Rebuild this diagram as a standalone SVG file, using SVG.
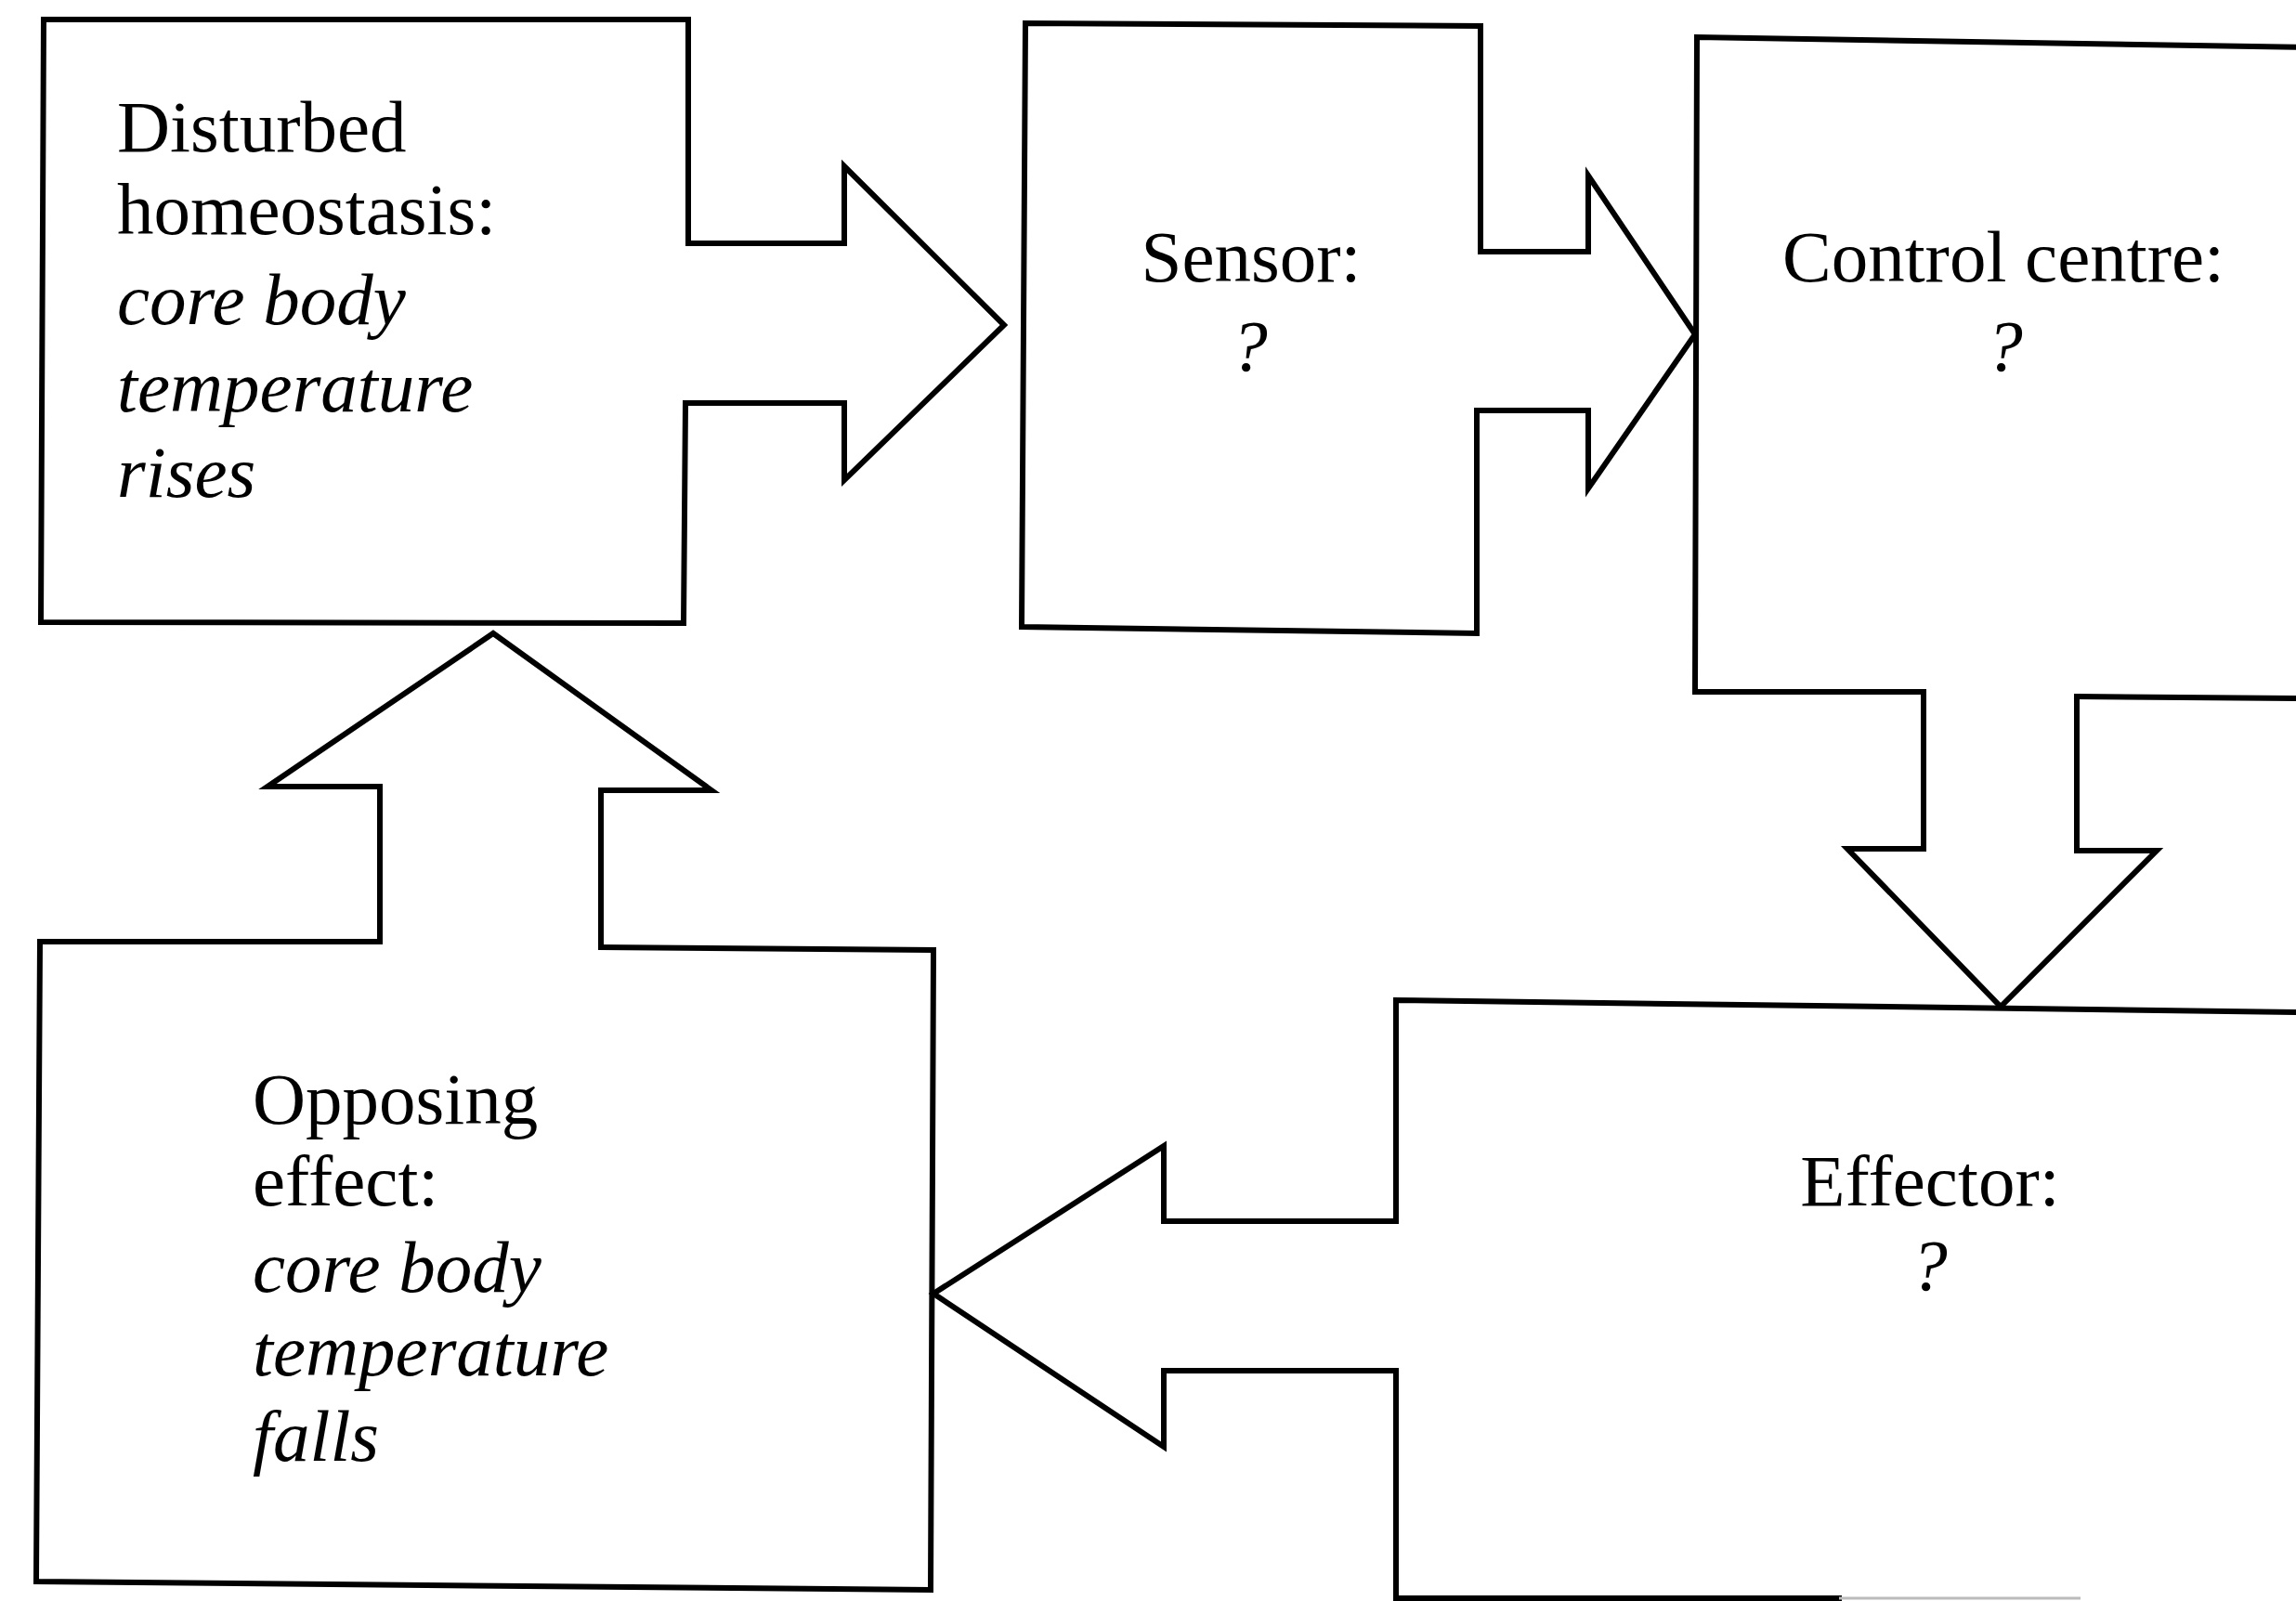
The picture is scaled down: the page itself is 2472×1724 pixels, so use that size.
<svg xmlns="http://www.w3.org/2000/svg" width="2472" height="1724" viewBox="0 0 2472 1724">
<style>
.ln{fill:none;stroke:#000;stroke-width:6;stroke-linejoin:miter;stroke-linecap:square}
.t{font-family:"Liberation Serif","Times New Roman",serif;font-size:79px;fill:#000}
.i{font-style:italic}
.c{text-anchor:middle}
</style>
<rect width="2472" height="1724" fill="#fff"/>
<g id="disturbed">
<path class="ln" d="M741,262 L741,21 L47,21 L44,670 L736,671 L738,434"/>
<text class="t" x="126" y="163">Disturbed</text>
<text class="t" x="126" y="252">homeostasis:</text>
<text class="t i" x="126" y="349">core body</text>
<text class="t i" x="126" y="443">temperature</text>
<text class="t i" x="126" y="535">rises</text>
</g>
<g id="sensor">
<path class="ln" d="M1594,271 L1594,28 L1104,25 L1100,675 L1590,682 L1590,442"/>
<text class="t c" x="1347" y="303">Sensor:</text>
<text class="t c i" x="1345" y="399">?</text>
</g>
<g id="control">
<path class="ln" d="M2071,745 L1825,745 L1827,40 L2480,51 M2236,750 L2480,752"/>
<text class="t c" x="2157" y="303">Control centre:</text>
<text class="t c i" x="2158" y="399">?</text>
</g>
<g id="effector">
<path class="ln" d="M1503,1315 L1503,1077 L2480,1090 M1503,1476 L1503,1721 L1980,1721"/>
<path d="M1980,1721 L2240,1721" fill="none" stroke="#bbb" stroke-width="3"/>
<text class="t c" x="2078" y="1298">Effector:</text>
<text class="t c i" x="2077" y="1389">?</text>
</g>
<g id="opposing">
<path class="ln" d="M409,1014 L43,1014 L39,1703 L1002,1712 L1005,1023 L647,1020"/>
<text class="t" x="272" y="1210">Opposing</text>
<text class="t" x="272" y="1298">effect:</text>
<text class="t i" x="272" y="1391">core body</text>
<text class="t i" x="272" y="1481">temperature</text>
<text class="t i" x="272" y="1573">falls</text>
</g>
<g id="connectors">
<path class="ln" d="M741,262 L909,262 L909,179 L1081,350 L909,517 L909,434 L738,434"/>
<path class="ln" d="M1594,271 L1710,271 L1710,189 L1825,360 L1710,526 L1710,442 L1590,442"/>
<path class="ln" d="M2071,745 L2071,914 L1989,914 L2154,1084 L2322,916 L2236,916 L2236,750"/>
<path class="ln" d="M1503,1315 L1253,1315 L1253,1234 L1005,1393 L1253,1558 L1253,1476 L1503,1476"/>
<path class="ln" d="M409,1014 L409,847 L288,847 L531,682 L766,851 L647,851 L647,1020"/>
</g>
</svg>
